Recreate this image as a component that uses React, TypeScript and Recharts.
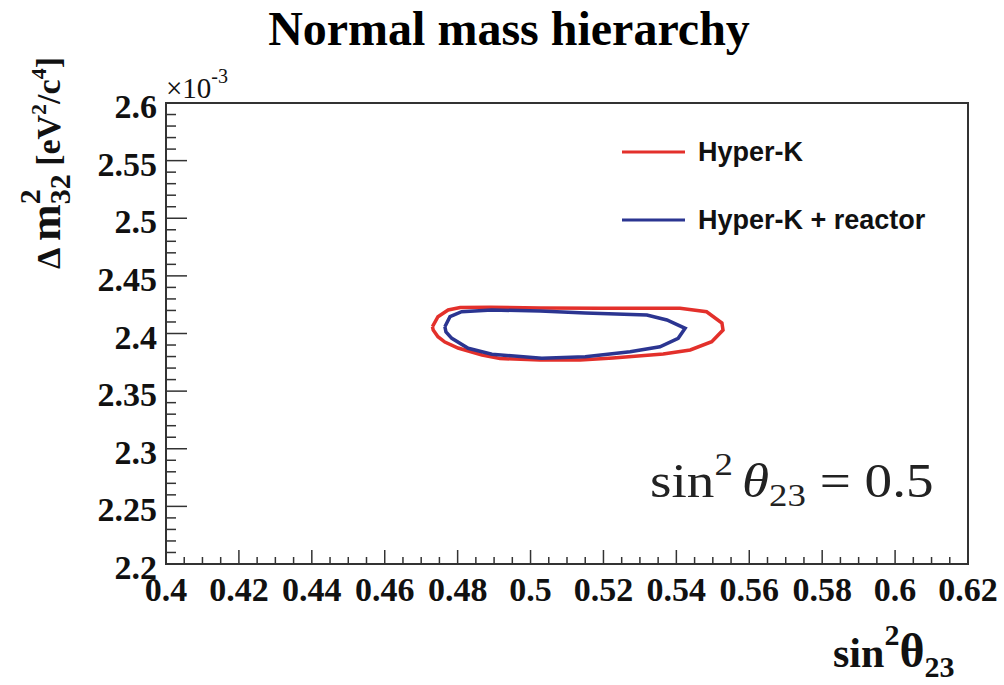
import React from "react";
import { ScatterChart, Scatter, XAxis, YAxis, ReferenceArea } from "recharts";

// contour: Hyper-K alone (x = sin^2 theta23, y = dm2_32 in 1e-3 eV^2)
const hkX = [0.4731, 0.4746, 0.4774, 0.4807, 0.4889, 0.5026, 0.5191, 0.541, 0.5483, 0.5525, 0.5528, 0.5497, 0.5438, 0.5364, 0.5226, 0.5136, 0.5026, 0.4916, 0.4867, 0.4801, 0.4765, 0.4746, 0.4733, 0.4731];
const hkY = [2.4059, 2.4146, 2.4204, 2.4226, 2.4227, 2.4221, 2.4219, 2.4219, 2.4189, 2.4091, 2.403, 2.3929, 2.3857, 2.3822, 2.3787, 2.377, 2.377, 2.3783, 2.3813, 2.3874, 2.3926, 2.3972, 2.403, 2.4059];

// contour: Hyper-K + reactor
const hkrX = [0.4765, 0.4779, 0.4811, 0.4894, 0.5026, 0.515, 0.5319, 0.5374, 0.5424, 0.5405, 0.5355, 0.5273, 0.515, 0.5031, 0.4894, 0.4829, 0.4784, 0.4768, 0.4765];
const hkrY = [2.4059, 2.4146, 2.4189, 2.4204, 2.4195, 2.4178, 2.4161, 2.4117, 2.4045, 2.3958, 2.3885, 2.3842, 2.3799, 2.3785, 2.382, 2.3872, 2.3958, 2.4013, 2.4059];

const xMajor = [0.4, 0.42, 0.44, 0.46, 0.48, 0.5, 0.52, 0.54, 0.56, 0.58, 0.6, 0.62];
const yMajor = [2.2, 2.25, 2.3, 2.35, 2.4, 2.45, 2.5, 2.55, 2.6];
const legendLabels = ["Hyper-K", "Hyper-K + reactor"];

const RED = "#e3302b";
const BLUE = "#2b3591";
const AXIS = "#333";
const SERIF = "'Liberation Serif', 'Times New Roman', serif";
const SANS = "'Liberation Sans', Arial, sans-serif";

const W = 1004;
const H = 685;
const XAXIS_H = 40;
const YAXIS_W = 60;
// plot frame: x 166..968, y 103..564
const M = { top: 103, right: 36, bottom: 121 - XAXIS_H, left: 166 - YAXIS_W };

// minor ticks between the labelled ones
const xTicks: number[] = [];
for (let i = 0; i <= 44; i++) xTicks.push(Math.round((0.4 + i * 0.005) * 1000) / 1000);
const yTicks: number[] = [];
for (let i = 0; i <= 40; i++) yTicks.push(Math.round((2.2 + i * 0.01) * 1000) / 1000);

const isMajor = (v: number, majors: number[]) => majors.some((m) => Math.abs(m - v) < 1e-6);

const toPts = (xs: number[], ys: number[]) => xs.map((x, i) => ({ x, y: ys[i] }));

function XTick(p: any) {
  const v = p.payload.value;
  const major = isMajor(v, xMajor);
  return (
    <g>
      <line x1={p.x} x2={p.x} y1={p.y} y2={p.y - (major ? 14 : 7)} stroke={AXIS} strokeWidth={1.5} />
      {major && (
        <text x={p.x} y={p.y + 37} textAnchor="middle" fontFamily={SERIF} fontWeight="bold" fontSize={34} fill="#111">
          {String(v)}
        </text>
      )}
    </g>
  );
}

function YTick(p: any) {
  const v = p.payload.value;
  const major = isMajor(v, yMajor);
  return (
    <g>
      <line x1={p.x} x2={p.x + (major ? 21 : 10)} y1={p.y} y2={p.y} stroke={AXIS} strokeWidth={1.5} />
      {major && (
        <text x={p.x - 9} y={p.y + 15} textAnchor="end" fontFamily={SERIF} fontWeight="bold" fontSize={34} fill="#111">
          {String(v)}
        </text>
      )}
    </g>
  );
}

export default function App() {
  const colors = [RED, BLUE];
  return (
    <div style={{ position: "absolute", left: 0, top: 0, width: W, height: H, background: "#fff" }}>
      <ScatterChart width={W} height={H} margin={M}>
        <XAxis
          type="number"
          dataKey="x"
          domain={[0.4, 0.62]}
          ticks={xTicks}
          interval={0}
          height={XAXIS_H}
          tickSize={0}
          tickMargin={0}
          tick={(p: any) => <XTick {...p} />}
          axisLine={{ stroke: AXIS, strokeWidth: 2 }}
          allowDataOverflow
        />
        <YAxis
          type="number"
          dataKey="y"
          domain={[2.2, 2.6]}
          ticks={yTicks}
          interval={0}
          width={YAXIS_W}
          tickSize={0}
          tickMargin={0}
          tick={(p: any) => <YTick {...p} />}
          axisLine={{ stroke: AXIS, strokeWidth: 2 }}
          allowDataOverflow
        />
        <ReferenceArea x1={0.4} x2={0.62} y1={2.2} y2={2.6} fill="none" stroke={AXIS} strokeWidth={2} />
        <Scatter
          name={legendLabels[0]}
          data={toPts(hkX, hkY)}
          line={{ stroke: RED, strokeWidth: 3.5 }}
          lineType="joint"
          shape={() => <g />}
          isAnimationActive={false}
        />
        <Scatter
          name={legendLabels[1]}
          data={toPts(hkrX, hkrY)}
          line={{ stroke: BLUE, strokeWidth: 3.5 }}
          lineType="joint"
          shape={() => <g />}
          isAnimationActive={false}
        />
      </ScatterChart>
      <svg width={W} height={H} style={{ position: "absolute", left: 0, top: 0, pointerEvents: "none" }}>
        {/* legend */}
        {legendLabels.map((label, i) => (
          <g key={label} transform={`translate(622, ${152 + i * 68})`}>
            <line x1={0} x2={63} y1={0} y2={0} stroke={colors[i]} strokeWidth={3} />
            <text x={76} y={9} fontFamily={SANS} fontWeight="bold" fontSize={27} fill="#111">
              {label}
            </text>
          </g>
        ))}
        <text x={509} y={45} textAnchor="middle" fontFamily={SERIF} fontWeight="bold" fontSize={48} fill="#000">
          Normal mass hierarchy
        </text>
        <text x={166} y={98} fontFamily={SERIF} fontSize={29} fill="#111">
          ×10
          <tspan dy={-15} fontSize={20}>-3</tspan>
        </text>
        <text
          transform="translate(60, 163) rotate(-90)"
          textAnchor="middle"
          fontFamily={SERIF}
          fontWeight="bold"
          fontSize={34}
          fill="#111"
        >
          {"Δ "}
          <tspan fontSize={44}>m</tspan>
          <tspan dy={-20} fontSize={30}>2</tspan>
          <tspan dx={-15} dy={30} fontSize={30}>32</tspan>
          <tspan dy={-10} fontSize={34}>{" [eV"}</tspan>
          <tspan dy={-14} fontSize={22}>2</tspan>
          <tspan dy={14} fontSize={34}>/c</tspan>
          <tspan dy={-14} fontSize={22}>4</tspan>
          <tspan dy={14} fontSize={34}>]</tspan>
        </text>
        <text x={833} y={667} fontFamily={SERIF} fontWeight="bold" fontSize={42} fill="#111">
          sin
          <tspan dy={-22} fontSize={30}>2</tspan>
          <tspan dy={22} fontSize={48}>θ</tspan>
          <tspan dy={10} fontSize={30}>23</tspan>
        </text>
        <text transform="translate(650, 497) scale(1.15, 1)" fontFamily={SERIF} fontSize={48} fill="#222">
          sin
          <tspan dy={-22} fontSize={32}>2</tspan>
          <tspan dx={8} dy={22} fontStyle="italic">θ</tspan>
          <tspan dy={9} fontSize={32}>23</tspan>
          <tspan dy={-9}>{" = 0.5"}</tspan>
        </text>
      </svg>
    </div>
  );
}
